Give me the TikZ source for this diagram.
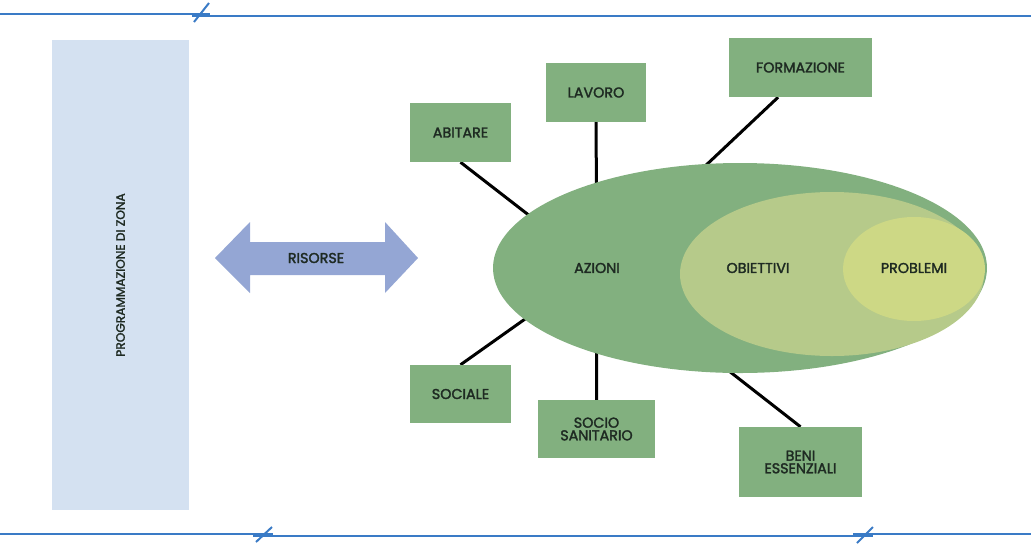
\documentclass[tikz,border=0pt]{standalone}
\usepackage{fontspec}
\setmainfont{Poppins}[FakeBold=2]
\usetikzlibrary{backgrounds, positioning}
\definecolor{lineblue}{HTML}{3A7BC6}
\definecolor{zonablue}{HTML}{D4E1F1}
\definecolor{arrowblue}{HTML}{94A6D4}
\definecolor{boxgreen}{HTML}{82B07F}
\definecolor{obgreen}{HTML}{B6CA8A}
\definecolor{prgreen}{HTML}{CDD885}
\definecolor{txtdark}{HTML}{1E2A22}
\newcommand{\pxu}{0.03cm}

\begin{document}
\begin{tikzpicture}[x=0.03cm, y=-0.03cm, font=\fontsize{12.2}{10.8}\selectfont, text=txtdark,
  ambito/.style={fill=boxgreen, align=center, inner sep=0pt},
  link/.style={line width=3*\pxu, black},
  sepline/.style={line width=2*\pxu, lineblue}]
  \useasboundingbox (0,0) rectangle (1031,548);

  % linee di separazione con interruzioni
  \draw[sepline] (0,14) -- (210,14);
  \draw[sepline] (192,15.5) -- (1031,15.5);
  \draw[sepline] (194,22) -- (209,3);
  \draw[sepline] (0,534) -- (273,534);
  \draw[sepline] (253,536) -- (873,536);
  \draw[sepline] (256,542) -- (272,527);
  \draw[sepline] (853,534) -- (1031,534);
  \draw[sepline] (857,543) -- (873,527);

  % programmazione di zona
  \node[fill=zonablue, rotate=90, minimum width=470*\pxu, minimum height=137*\pxu,
    font=\fontsize{10.4}{11}\selectfont] (zona) at (120.5,275) {PROGRAMMAZIONE DI ZONA};

  % freccia risorse
  \fill[arrowblue] (215,258) -- (250,222) -- (250,242) -- (385,242) -- (385,222)
    -- (418,258) -- (385,293) -- (385,275) -- (250,275) -- (250,293) -- cycle;
  \node (risorse) at (316,258) {RISORSE};

  % ellissi
  \fill[boxgreen] (740,268) ellipse [x radius=247, y radius=105];
  \fill[obgreen] (832,274) ellipse [x radius=152, y radius=82];
  \fill[prgreen] (914,269) ellipse [x radius=71, y radius=52];
  \node (azioni) at (597,268) {AZIONI};
  \node (obiettivi) at (758,268) {OBIETTIVI};
  \node (problemi) at (914,268) {PROBLEMI};

  % ambiti
  \node[ambito, minimum width=101*\pxu, minimum height=59*\pxu] (abitare) at (460.5,132.5) {ABITARE};
  \node[ambito, minimum width=100*\pxu, minimum height=59*\pxu] (lavoro) at (596,92.5) {LAVORO};
  \node[ambito, minimum width=143*\pxu, minimum height=59*\pxu] (formazione) at (800.5,67.5) {FORMAZIONE};
  \node[ambito, minimum width=101*\pxu, minimum height=58*\pxu] (sociale) at (460.5,394) {SOCIALE};
  \node[ambito, minimum width=117*\pxu, minimum height=58*\pxu] (sociosan) at (596.5,429) {SOCIO\\SANITARIO};
  \node[ambito, minimum width=123*\pxu, minimum height=70*\pxu] (beni) at (800.5,462) {BENI\\ESSENZIALI};

  % collegamenti (sotto le ellissi)
  \begin{scope}[on background layer]
    \draw[link] (abitare.south) -- (azioni);
    \draw[link] (lavoro.south) -- (azioni);
    \draw[link] (formazione.233) -- (azioni);
    \draw[link] (sociale.north) -- (azioni);
    \draw[link] (sociosan.north) -- (azioni);
    \draw[link] (beni.north) -- (azioni);
  \end{scope}
\end{tikzpicture}
\end{document}
